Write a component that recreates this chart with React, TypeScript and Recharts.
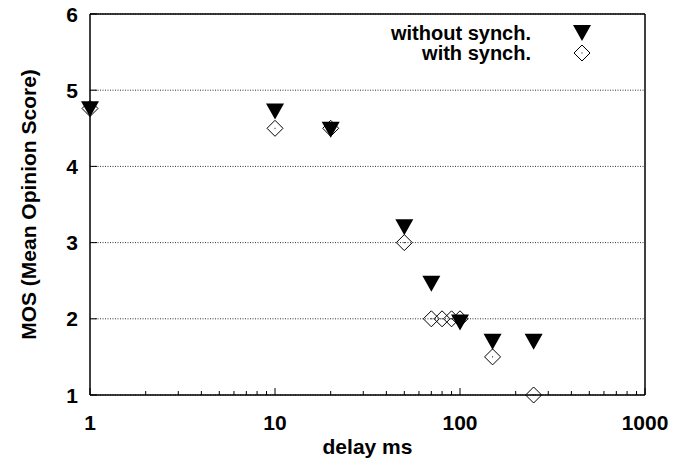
import { CartesianGrid, Legend, Scatter, ScatterChart, XAxis, YAxis } from 'recharts';

// ===== data =====
const delayWithout = [1, 10, 20, 50, 70, 100, 150, 250];
const mosWithout = [4.75, 4.72, 4.48, 3.2, 2.46, 1.95, 1.7, 1.7];
const delayWith = [1, 10, 20, 50, 70, 80, 90, 100, 150, 250];
const mosWith = [4.76, 4.5, 4.5, 3.0, 2.0, 2.0, 2.0, 2.0, 1.5, 1.0];

const xMajor = [1, 10, 100, 1000];
const xMinor = [2, 3, 4, 5, 6, 7, 8, 9, 20, 30, 40, 50, 60, 70, 80, 90, 200, 300, 400, 500, 600, 700, 800, 900];
const yTicks = [1, 2, 3, 4, 5, 6];
const seriesNames = ['without synch.', 'with synch.'];

const W = 691;
const H = 467;
const FONT = 'Liberation Sans, Arial, Helvetica, sans-serif';
const TXT = { fontFamily: FONT, fontWeight: 700, fontSize: 21, fill: '#000' };

const withoutData = delayWithout.map((d, i) => ({ delay: d, mos: mosWithout[i] }));
const withData = delayWith.map((d, i) => ({ delay: d, mos: mosWith[i] }));
const xTicks = [...xMajor, ...xMinor].sort((a, b) => a - b);

// ===== markers =====
function Tri({ cx, cy }: { cx?: number; cy?: number }) {
  if (cx == null || cy == null) return null;
  return <polygon points={`${cx - 9},${cy - 8} ${cx + 9},${cy - 8} ${cx},${cy + 8}`} fill="#000" />;
}

function Diamond({ cx, cy }: { cx?: number; cy?: number }) {
  if (cx == null || cy == null) return null;
  return (
    <g>
      <polygon
        points={`${cx},${cy - 8} ${cx + 8},${cy} ${cx},${cy + 8} ${cx - 8},${cy}`}
        fill="none"
        stroke="#000"
        strokeWidth={1}
      />
      <rect x={cx - 0.5} y={cy - 0.5} width={1} height={1} fill="#000" />
    </g>
  );
}

// ===== ticks (gnuplot style: inward, mirrored) =====
function BottomTick(props: any) {
  const { x, y, payload } = props;
  const major = xMajor.includes(payload.value);
  return (
    <g>
      <line x1={x} x2={x} y1={y} y2={y - (major ? 7 : 4)} stroke="#000" />
      {major && (
        <text x={x} y={y + 27} textAnchor="middle" dominantBaseline="central" {...TXT}>
          {payload.value}
        </text>
      )}
    </g>
  );
}

function TopTick(props: any) {
  const { x, y, payload } = props;
  const major = xMajor.includes(payload.value);
  return <line x1={x} x2={x} y1={y} y2={y + (major ? 7 : 4)} stroke="#000" />;
}

function LeftTick(props: any) {
  const { x, y, payload } = props;
  return (
    <g>
      <line x1={x} x2={x + 7} y1={y} y2={y} stroke="#000" />
      <text x={x - 12} y={y} textAnchor="end" dominantBaseline="central" {...TXT}>
        {payload.value}
      </text>
    </g>
  );
}

function RightTick(props: any) {
  const { x, y } = props;
  return <line x1={x} x2={x - 7} y1={y} y2={y} stroke="#000" />;
}

function KeyBox() {
  return (
    <div style={{ fontFamily: FONT, fontWeight: 700, fontSize: 20, color: '#000' }}>
      {seriesNames.map((name, i) => (
        <div
          key={name}
          style={{ display: 'flex', alignItems: 'center', justifyContent: 'flex-end', height: 20, lineHeight: '20px' }}
        >
          <span>{name}</span>
          <svg width={60} height={20}>
            {i === 0 ? <Tri cx={51} cy={10} /> : <Diamond cx={51} cy={10} />}
          </svg>
        </div>
      ))}
    </div>
  );
}

export default function App() {
  const axisLine = { stroke: '#000', strokeWidth: 1.5 };
  return (
    <div style={{ position: 'absolute', left: 0, top: 0, background: '#fff' }}>
      <ScatterChart width={W} height={H} margin={{ top: 4, right: 36, bottom: 0, left: 30 }}>
        <CartesianGrid xAxisId="x" yAxisId="y" vertical={false} stroke="#333" strokeDasharray="1 1.5" />
        <XAxis
          xAxisId="x"
          dataKey="delay"
          type="number"
          scale="log"
          domain={[1, 1000]}
          ticks={xTicks}
          interval={0}
          height={72}
          tickSize={0}
          tickMargin={0}
          tickLine={false}
          axisLine={axisLine}
          tick={<BottomTick />}
          label={{
            content: (p: any) => {
              const vb = p.viewBox;
              return (
                <text x={vb.x + vb.width / 2} y={vb.y + 51} textAnchor="middle" dominantBaseline="central" {...TXT}>
                  delay ms
                </text>
              );
            },
          }}
        />
        <XAxis
          xAxisId="top"
          orientation="top"
          type="number"
          scale="log"
          domain={[1, 1000]}
          ticks={xTicks}
          interval={0}
          height={10}
          tickSize={0}
          tickMargin={0}
          tickLine={false}
          axisLine={axisLine}
          tick={<TopTick />}
        />
        <YAxis
          yAxisId="y"
          dataKey="mos"
          type="number"
          domain={[1, 6]}
          ticks={yTicks}
          interval={0}
          width={60}
          tickSize={0}
          tickMargin={0}
          tickLine={false}
          axisLine={axisLine}
          tick={<LeftTick />}
          label={{
            content: (p: any) => {
              const vb = p.viewBox;
              const cx = 28;
              const cy = vb.y + vb.height / 2;
              return (
                <text
                  x={cx}
                  y={cy}
                  transform={`rotate(-90 ${cx} ${cy})`}
                  textAnchor="middle"
                  dominantBaseline="central"
                  {...TXT}
                >
                  MOS (Mean Opinion Score)
                </text>
              );
            },
          }}
        />
        <YAxis
          yAxisId="right"
          orientation="right"
          type="number"
          domain={[1, 6]}
          ticks={yTicks}
          interval={0}
          width={10}
          tickSize={0}
          tickMargin={0}
          tickLine={false}
          axisLine={axisLine}
          tick={<RightTick />}
        />
        <Legend
          layout="vertical"
          align="center"
          verticalAlign="middle"
          content={() => <KeyBox />}
          wrapperStyle={{ left: 391, top: 23, width: 200 }}
        />
        <Scatter
          name={seriesNames[0]}
          xAxisId="x"
          yAxisId="y"
          data={withoutData}
          shape={<Tri />}
          isAnimationActive={false}
        />
        <Scatter
          name={seriesNames[1]}
          xAxisId="x"
          yAxisId="y"
          data={withData}
          shape={<Diamond />}
          isAnimationActive={false}
        />
      </ScatterChart>
    </div>
  );
}
